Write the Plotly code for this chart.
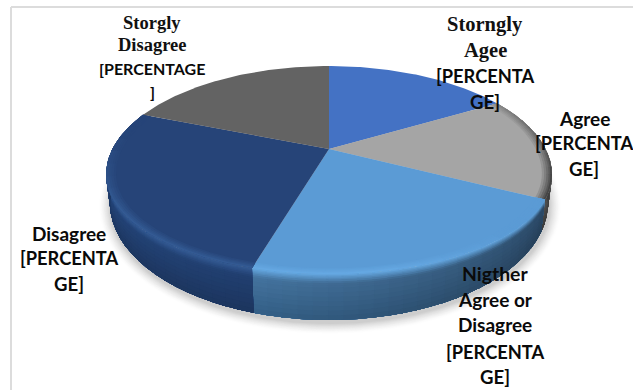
import numpy as np
import plotly.graph_objects as go

# Survey responses (percent), clockwise from twelve o'clock
categories = ["Storngly Agee", "Agree", "Nigther Agree or Disagree", "Disagree", "Storgly Disagree"]
values = [13.6, 15.4, 26.6, 28.7, 15.7]

# Label text, one entry per printed line
serif_lines = ["Storgly", "Disagree", "Storngly", "Agee"]
sans_lines = ["[PERCENTAGE", "]", "[PERCENTA", "GE]", "Agree", "[PERCENTA", "GE]",
              "Disagree", "[PERCENTA", "GE]", "Nigther", "Agree or", "Disagree", "[PERCENTA", "GE]"]

# Placement of those lines
serif_x = [152, 152, 485, 485]
serif_y = [23, 45, 24, 50]
sans_x = [152, 152, 485, 485, 584, 584, 584, 69, 69, 69, 495, 495, 495, 495, 495]
sans_y = [68, 91, 76, 102, 118, 143, 169, 233, 258, 284, 273, 299, 324, 352, 377]
serif_size = [18.5, 18.5, 20.5, 20.5]
sans_size = [16, 16, 18.3, 18.6, 19, 18.3, 18.6, 19, 18.3, 18.6, 19.4, 19, 19, 18.3, 18.6]

# Tilted pie geometry: top rim (deeper behind the centre than in front), base rim, off-centre apex
CX, CY, RX, RY_BACK, RY_FRONT = 329, 175, 223, 109, 99
BX, BY, BRX, BRY = 329, 203, 219, 117
APEX = (329, 149)

face_colors = ["#4472c4", "#a5a5a5", "#5b9bd5", "#264478", "#636363"]
rim_colors = ["#4472c4", "#454545", "#66a9e3", "#345b94", "#636363"]
wall_near = [("#2d4f8c", "#263f70"), ("#505050", "#3a3a3a"), ("#44749f", "#335f86"),
             ("#213f70", "#1c355e"), ("#505050", "#3a3a3a")]
wall_far = [("#2d4f8c", "#263f70"), ("#505050", "#3a3a3a"), ("#2c4a68", "#263f58"),
            ("#24457a", "#1e3862"), ("#505050", "#3a3a3a")]


def rgb(h):
    return np.array([int(h[i:i + 2], 16) for i in (1, 3, 5)], float)


def mix(a, b, t):
    c = rgb(a) * (1 - t) + rgb(b) * t
    return "#%02x%02x%02x" % tuple(int(round(v)) for v in c)


def top_rim(theta):
    c = np.cos(theta)
    return CX + RX * np.sin(theta), CY - np.where(c > 0, RY_BACK, RY_FRONT) * c


def base_rim(theta):
    return BX + BRX * np.sin(theta), BY - BRY * np.cos(theta)


def polygon(fig, xs, ys, color):
    fig.add_trace(go.Scatter(x=xs, y=ys, mode="lines", fill="toself", fillcolor=color,
                             line=dict(width=0), hoverinfo="skip", showlegend=False))


fig = go.Figure()

# Soft cast shadow under the base
ang = np.linspace(0, 2 * np.pi, 240)
for k in range(12, 0, -1):
    xs = BX + 1 + (BRX + k) * np.sin(ang)
    ys = BY + 3 + (BRY + k * 0.9) * np.cos(ang)
    polygon(fig, xs, ys, mix("#ffffff", "#cdcdcd", ((13 - k) / 12) ** 1.5))

cum = np.concatenate([[0], np.cumsum(values)]) / sum(values) * 2 * np.pi

# Side wall: painted top band first, each band reaching the base so later ones overlap cleanly
WALL_BANDS = [0, 0.03, 0.06, 0.09, 0.12, 0.16, 0.2, 0.25, 0.3, 0.4, 0.5, 0.6, 0.7, 0.8, 0.9]
for i in range(len(values)):
    lo, hi = max(cum[i], np.radians(60)), min(cum[i + 1], np.radians(300))
    if hi <= lo:
        continue
    for n, t0 in enumerate(WALL_BANDS):
        t1 = WALL_BANDS[n + 1] if n + 1 < len(WALL_BANDS) else 1.0
        tm = (t0 + t1) / 2
        edges = np.linspace(lo, hi, max(2, int(np.degrees(hi - lo) / 4) + 2))
        for a0, a1 in zip(edges[:-1], edges[1:]):
            th = np.linspace(a0, min(a1 + 0.01, hi), 4)
            deg = np.degrees((a0 + a1) / 2)
            if i == 3:
                pos = 1 - np.clip((deg - 200) / 80, 0, 1)
            else:
                pos = np.clip((deg - 104) / 96, 0, 1)
            wall_top = mix(wall_far[i][0], wall_near[i][0], pos)
            wall_bot = mix(wall_far[i][1], wall_near[i][1], pos)
            if tm < 0.2:
                col = mix(rim_colors[i], wall_top, tm / 0.2)
            else:
                col = mix(wall_top, wall_bot, (tm - 0.2) / 0.8)
            tx, ty = top_rim(th)
            bx, by = base_rim(th)
            xa, ya = tx + (bx - tx) * t0, ty + (by - ty) * t0
            polygon(fig, np.r_[xa, bx[::-1], xa[0]], np.r_[ya, by[::-1], ya[0]], col)

# Top faces: flat wedge from the apex, then rings that blend into the rim
RINGS = [0.955, 0.965, 0.975, 0.985, 0.993]
for i in range(len(values)):
    th = np.linspace(cum[i], cum[i + 1], 80)
    rx, ry = top_rim(th)
    polygon(fig, np.r_[APEX[0], rx, APEX[0]], np.r_[APEX[1], ry, APEX[1]], face_colors[i])
    if rim_colors[i] == face_colors[i]:
        continue
    for j, s0 in enumerate(RINGS):
        edges = np.linspace(cum[i], cum[i + 1], 16)
        for a0, a1 in zip(edges[:-1], edges[1:]):
            deg = np.degrees((a0 + a1) / 2)
            # The glow or darkening fades out toward the back of the pie
            if i == 1:
                reach = 0.35 + 0.65 * np.clip((deg - 50) / 40, 0, 1)
            elif i == 3:
                reach = np.clip((295 - deg) / 45, 0, 1)
            else:
                reach = np.clip((deg - 125) / 40, 0, 1)
            col = mix(face_colors[i], rim_colors[i], reach * (j + 1) / len(RINGS))
            t = np.linspace(a0, min(a1 + 0.01, cum[i + 1]), 6)
            ex, ey = top_rim(t)
            xa, ya = APEX[0] + s0 * (ex - APEX[0]), APEX[1] + s0 * (ey - APEX[1])
            polygon(fig, np.r_[xa, ex[::-1], xa[0]], np.r_[ya, ey[::-1], ya[0]], col)

notes = []
for txt, x, y, size in zip(serif_lines, serif_x, serif_y, serif_size):
    notes.append(dict(text=f"<b>{txt}</b>", x=x, y=y, xref="x", yref="y", showarrow=False,
                      font=dict(family="Liberation Serif", size=size, color="#111111")))
for txt, x, y, size in zip(sans_lines, sans_x, sans_y, sans_size):
    notes.append(dict(text=f"<b>{txt}</b>", x=x, y=y, xref="x", yref="y", showarrow=False,
                      font=dict(family="Lato", size=size, color="#0a0a0a")))

# Chart-area border runs along the top and left only
frame = [dict(type="line", xref="x", yref="y", x0=11, x1=633, y0=7, y1=7, line=dict(color="#dcdcdc", width=2)),
         dict(type="line", xref="x", yref="y", x0=11, x1=11, y0=7, y1=390, line=dict(color="#dcdcdc", width=2))]

fig.update_layout(width=633, height=390, margin=dict(l=0, r=0, t=0, b=0),
                  paper_bgcolor="white", plot_bgcolor="white", showlegend=False,
                  annotations=notes, shapes=frame,
                  xaxis=dict(range=[0, 633], visible=False, fixedrange=True),
                  yaxis=dict(range=[390, 0], visible=False, fixedrange=True))
fig.write_html("out.html", config=dict(displayModeBar=False))
